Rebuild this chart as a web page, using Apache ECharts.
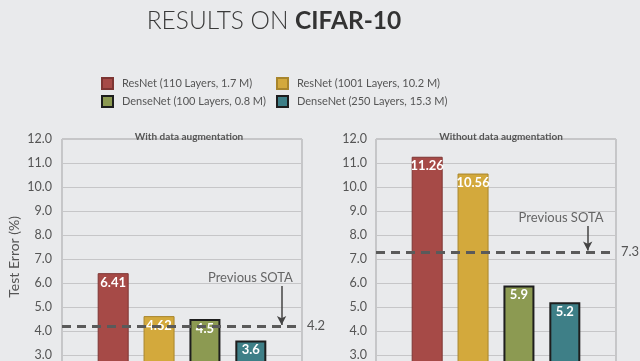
<!DOCTYPE html>
<html><head><meta charset="utf-8">
<script src="https://cdn.jsdelivr.net/npm/echarts@6/dist/echarts.min.js"></script>
<style>html,body{margin:0;padding:0;background:#e9eaec;}#c{width:640px;height:361px;}</style>
</head><body><div id="c"></div>
<script>
const seriesNames = ['ResNet (110 Layers, 1.7 M)', 'ResNet (1001 Layers, 10.2 M)', 'DenseNet (100 Layers, 0.8 M)', 'DenseNet (250 Layers, 15.3 M)'];
const colors = ['#a64a47', '#d3a93c', '#8c9a52', '#3e7f87'];
const borderColors = ['#7d3533', '#a8852c', '#1e1e1e', '#1e1e1e'];
const borderWidths = [1, 1, 2, 2];
const panelTitles = ['With data augmentation', 'Without data augmentation'];
const withAug = [6.41, 4.62, 4.5, 3.6];
const withoutAug = [11.26, 10.56, 5.9, 5.2];
const sota = [4.2, 7.3];
const yTicks = [0, 1, 2, 3, 4, 5, 6, 7, 8, 9, 10, 11, 12];
const arrowTop = [5.875, 8.375];
const arrowX = [0.915, 0.882];
const sotaText = [[0.785, 6.21], [0.771, 8.71]];
const category = ['CIFAR-10'];

const font = 'Lato';
const chart = echarts.init(document.getElementById('c'));
const panels = [withAug, withoutAug];
const series = [];
panels.forEach((vals, p) => {
  vals.forEach((v, i) => {
    const s = {
      type: 'bar', name: seriesNames[i], xAxisIndex: p, yAxisIndex: p,
      data: [v], barWidth: 31, barGap: '48%',
      itemStyle: { color: colors[i], borderColor: borderColors[i], borderWidth: borderWidths[i] },
      label: { show: true, position: 'insideTop', distance: 3, color: '#fff', fontFamily: font, fontSize: 13, fontWeight: 'bold', formatter: (d) => String(d.value) }
    };
    if (i === 0) {
      s.markLine = {
        silent: true, symbol: 'none', z: 10,
        lineStyle: { type: [9, 6], width: 3, color: '#5a5a5a' },
        label: { position: 'end', distance: 5, color: '#555', fontFamily: font, fontSize: 13, formatter: String(sota[p]) },
        data: [{ yAxis: sota[p] }]
      };
    }
    series.push(s);
  });
  series.push({
    type: 'scatter', xAxisIndex: p + 2, yAxisIndex: p, symbolSize: 0, silent: true,
    data: [sotaText[p]],
    label: { show: true, position: 'inside', formatter: 'Previous SOTA', color: '#444', fontFamily: font, fontSize: 13 },
    markLine: {
      silent: true, symbol: ['none', 'arrow'], symbolSize: [7, 9],
      lineStyle: { type: 'solid', width: 1.5, color: '#444' },
      label: { show: false },
      data: [[{ coord: [arrowX[p], arrowTop[p]] }, { coord: [arrowX[p], sota[p] + 0.05] }]]
    }
  });
});

const gridBase = { top: 139, height: 288, width: 240, outerBoundsMode: 'none', containLabel: false, show: true, borderColor: '#a3a3a5', borderWidth: 1, backgroundColor: 'transparent' };
const yAxisBase = (p) => ({
  type: 'value', gridIndex: p, min: yTicks[0], max: yTicks[yTicks.length - 1], interval: 1,
  axisLine: { show: false }, axisTick: { show: false },
  splitLine: { lineStyle: { color: '#c6c6c8', width: 1 } },
  axisLabel: { margin: p === 0 ? 10 : 9, color: '#555', fontFamily: font, fontSize: 12.5, formatter: (v) => v.toFixed(1) }
});

chart.setOption({
  backgroundColor: '#e9eaec',
  animation: false,
  title: [
    { text: '{a|RESULTS ON }{b|CIFAR-10}', left: 269, top: 4, textAlign: 'center',
      textStyle: { rich: {
        a: { fontFamily: font, fontSize: 24.5, fontWeight: 300, color: '#3a3a3a' },
        b: { fontFamily: font, fontSize: 24.5, fontWeight: 'bold', color: '#333' } } } },
    { text: panelTitles[0], left: 184, top: 127, textAlign: 'center', textStyle: { fontFamily: font, fontSize: 10, fontWeight: 'bold', color: '#555' } },
    { text: panelTitles[1], left: 496, top: 127, textAlign: 'center', textStyle: { fontFamily: font, fontSize: 10, fontWeight: 'bold', color: '#555' } }
  ],
  legend: [
    { data: [seriesNames[0], seriesNames[2]], left: 101, top: 77, orient: 'vertical', itemWidth: 11, itemHeight: 11, itemGap: 5,
      icon: 'rect', textStyle: { fontFamily: font, fontSize: 11, color: '#555', padding: [0, 0, 0, 4] }, padding: 0, selectedMode: false },
    { data: [seriesNames[1], seriesNames[3]], left: 276, top: 77, orient: 'vertical', itemWidth: 11, itemHeight: 11, itemGap: 5,
      icon: 'rect', textStyle: { fontFamily: font, fontSize: 11, color: '#555', padding: [0, 0, 0, 4] }, padding: 0, selectedMode: false }
  ],
  grid: [Object.assign({ left: 62 }, gridBase), Object.assign({ left: 376 }, gridBase)],
  xAxis: [
    { type: 'category', gridIndex: 0, data: category, show: false },
    { type: 'category', gridIndex: 1, data: category, show: false },
    { type: 'value', gridIndex: 0, min: 0, max: 1, show: false },
    { type: 'value', gridIndex: 1, min: 0, max: 1, show: false }
  ],
  yAxis: [yAxisBase(0), yAxisBase(1)],
  graphic: [{ type: 'text', left: 7, top: 216, rotation: Math.PI / 2,
    style: { text: 'Test Error (%)', fontFamily: font, fontSize: 14, fill: '#555' } }],
  series: series
});
</script></body></html>
